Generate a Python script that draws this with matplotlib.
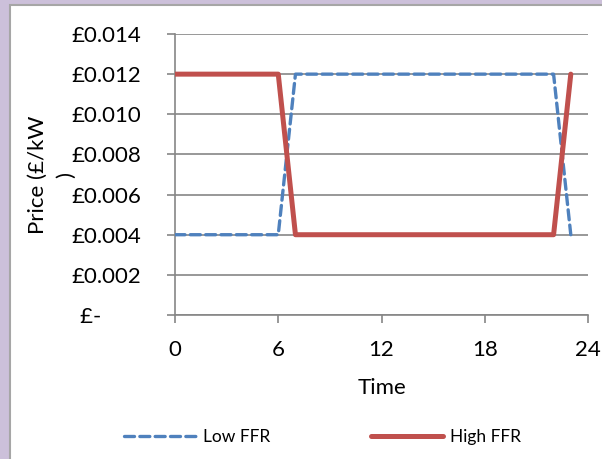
import matplotlib.pyplot as plt
from matplotlib.patches import Rectangle
from matplotlib.ticker import FuncFormatter

plt.rcParams['font.family'] = ['Lato', 'DejaVu Sans']

hours = list(range(24))
low_ffr = [0.004] * 7 + [0.012] * 16 + [0.004]
high_ffr = [0.012] * 7 + [0.004] * 16 + [0.012]

blue = '#4f81bd'
red = '#c0504d'
grid_grey = '#868686'

fig = plt.figure(figsize=(6.02, 4.59), dpi=100)
fig.patch.set_facecolor('#ccc0da')
# white chart panel with a grey frame, kept behind the axes
panel = Rectangle((10 / 602, -0.01), 1, 1.01 - 5 / 459, transform=fig.transFigure,
                  facecolor='white', edgecolor='#a6a6a6', linewidth=1.5, zorder=-10)
fig.add_artist(panel)

ax = fig.add_axes([175 / 602, 1 - 315 / 459, 413 / 602, 281 / 459])
ax.set_facecolor('white')

ax.plot(hours, low_ffr, color=blue, linewidth=2.4, dashes=(3.0, 1.6),
        dash_capstyle='round', label='Low FFR', zorder=3)
ax.plot(hours, high_ffr, color=red, linewidth=3.6, solid_capstyle='round',
        label='High FFR', zorder=4)

ax.set_xlim(0, 24)
ax.set_ylim(0, 0.014)
ax.set_xticks([0, 6, 12, 18, 24])
ax.set_yticks([0.002 * i for i in range(8)])


def pounds(v, pos):
    if abs(v) < 1e-12:
        return '£-       '
    return f'£{v:.3f}'


ax.yaxis.set_major_formatter(FuncFormatter(pounds))
ax.grid(axis='y', color=grid_grey, linewidth=1.2)
ax.set_axisbelow(True)

for side in ('top', 'right'):
    ax.spines[side].set_visible(False)
for side in ('left', 'bottom'):
    ax.spines[side].set_color(grid_grey)
    ax.spines[side].set_linewidth(1.2)

ax.tick_params(axis='both', colors=grid_grey, labelcolor='black', labelsize=16,
               length=6, width=1.2)
ax.tick_params(axis='x', pad=12)
ax.tick_params(axis='y', pad=18)

ax.set_xlabel('Time', fontsize=16, labelpad=13)
ax.set_ylabel('Price (£/kW\n)', fontsize=16, labelpad=-3, linespacing=1.5)

fig.legend(loc='center', bbox_to_anchor=(0.535, 1 - 437 / 459), ncol=2,
           frameon=False, fontsize=12.5, handlelength=4.2, handletextpad=0.35,
           columnspacing=5.8)

fig.savefig('out.png', dpi=100, facecolor=fig.get_facecolor())
